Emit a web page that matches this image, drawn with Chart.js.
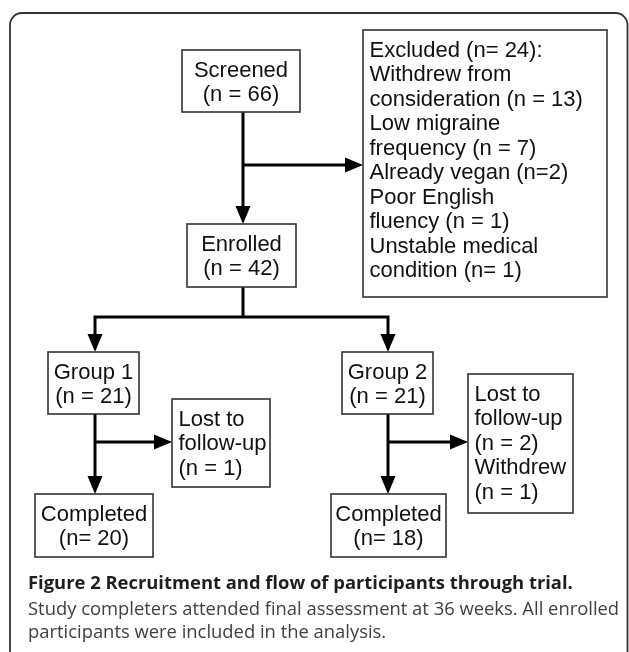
<!DOCTYPE html>
<html>
<head>
<meta charset="utf-8">
<script src="https://cdn.jsdelivr.net/npm/chart.js@4.4.1/dist/chart.umd.min.js"></script>
<style>
    body { margin: 0; background: #fff; }
    #wrap { position: relative; width: 629px; height: 652px; overflow: hidden; }
    #flow { position: absolute; left: 0; top: 0; }
    .cap { position: absolute; left: 28px; font-family: "Open Sans", sans-serif; font-size: 18.4px;
           line-height: 24px; white-space: nowrap; color: #404040; }
    .cap b { color: #1e1e1e; font-weight: 700; }
</style>
</head>
<body>
<div id="wrap">
    <canvas id="flow" width="629" height="652"></canvas>
    <div class="cap" style="top:570px"><b>Figure 2 Recruitment and flow of participants through trial.</b></div>
    <div class="cap" style="top:596px">Study completers attended final assessment at 36 weeks. All enrolled</div>
    <div class="cap" style="top:619px">participants were included in the analysis.</div>
</div>
<script>
'use strict';

// Dados do fluxograma
var stageNames = ['Screened', 'Enrolled', 'Group 1', 'Group 2', 'Completed', 'Completed'];
var stageCounts = [66, 42, 21, 21, 20, 18];
var excludedTotal = 24;
var exclusionCounts = [13, 7, 2, 1, 1];
var lostGroup1 = [1];      // lost to follow-up
var lostGroup2 = [2, 1];   // lost to follow-up, withdrew

var excludedLines = [
    'Excluded (n= ' + excludedTotal + '):',
    'Withdrew from',
    'consideration (n = ' + exclusionCounts[0] + ')',
    'Low migraine',
    'frequency (n = ' + exclusionCounts[1] + ')',
    'Already vegan (n=' + exclusionCounts[2] + ')',
    'Poor English',
    'fluency (n = ' + exclusionCounts[3] + ')',
    'Unstable medical',
    'condition (n= ' + exclusionCounts[4] + ')'
];

function stageLines(i, sep) {
    return [stageNames[i], '(n' + sep + stageCounts[i] + ')'];
}

// Layout das caixas (unidades da escala = pixels)
var boxes = [
    { x1: 182, y1: 50,  x2: 300, y2: 112, align: 'center', lines: stageLines(0, ' = ') },
    { x1: 363, y1: 30,  x2: 607, y2: 297, align: 'left',   lines: excludedLines },
    { x1: 187, y1: 224, x2: 296, y2: 287, align: 'center', lines: stageLines(1, ' = ') },
    { x1: 48,  y1: 352, x2: 139, y2: 414, align: 'center', lines: stageLines(2, ' = ') },
    { x1: 342, y1: 352, x2: 433, y2: 414, align: 'center', lines: stageLines(3, ' = ') },
    { x1: 172, y1: 399, x2: 270, y2: 487, align: 'left',
      lines: ['Lost to', 'follow-up', '(n = ' + lostGroup1[0] + ')'] },
    { x1: 468, y1: 374, x2: 573, y2: 513, align: 'left',
      lines: ['Lost to', 'follow-up', '(n = ' + lostGroup2[0] + ')', 'Withdrew', '(n = ' + lostGroup2[1] + ')'] },
    { x1: 35,  y1: 494, x2: 153, y2: 557, align: 'center', lines: stageLines(4, '= ') },
    { x1: 331, y1: 494, x2: 446, y2: 557, align: 'center', lines: stageLines(5, '= ') }
];

// Ligações entre caixas
var edges = [
    { pts: [[243, 112], [243, 224]], arrow: true },
    { pts: [[243, 165], [363, 165]], arrow: true },
    { pts: [[243, 287], [243, 317]], arrow: false },
    { pts: [[243, 317], [95, 317], [95, 352]], arrow: true },
    { pts: [[243, 317], [388, 317], [388, 352]], arrow: true },
    { pts: [[95, 414], [95, 494]], arrow: true },
    { pts: [[95, 442], [172, 442]], arrow: true },
    { pts: [[388, 414], [388, 494]], arrow: true },
    { pts: [[388, 442], [468, 442]], arrow: true }
];

var ARROW_LEN = 18;
var ARROW_HALF = 7.5;

function edgeDataset(edge) {
    var data = edge.pts.map(function(p) { return { x: p[0], y: p[1] }; });
    if (edge.arrow) {
        var a = edge.pts[edge.pts.length - 2], b = edge.pts[edge.pts.length - 1];
        var dx = b[0] - a[0], dy = b[1] - a[1];
        var len = Math.sqrt(dx * dx + dy * dy);
        data[data.length - 1] = { x: b[0] - dx / len * ARROW_LEN * 0.6, y: b[1] - dy / len * ARROW_LEN * 0.6 };
    }
    return {
        data: data,
        showLine: true,
        borderColor: '#000',
        borderWidth: 3,
        borderJoinStyle: 'miter',
        pointRadius: 0,
        fill: false,
        tension: 0
    };
}

var flowPlugin = {
    id: 'flowBoxes',
    beforeDatasetsDraw: function(chart) {
        var ctx = chart.ctx, x = chart.scales.x, y = chart.scales.y;
        // moldura arredondada
        ctx.save();
        ctx.strokeStyle = '#333';
        ctx.lineWidth = 1.8;
        ctx.beginPath();
        ctx.roundRect(x.getPixelForValue(10), y.getPixelForValue(13),
            x.getPixelForValue(627.5) - x.getPixelForValue(10), y.getPixelForValue(700) - y.getPixelForValue(13), 12);
        ctx.stroke();
        ctx.restore();
    },
    afterDatasetsDraw: function(chart) {
        var ctx = chart.ctx, x = chart.scales.x, y = chart.scales.y;
        ctx.save();

        // pontas das setas
        ctx.fillStyle = '#000';
        edges.forEach(function(edge) {
            if (!edge.arrow) return;
            var a = edge.pts[edge.pts.length - 2], b = edge.pts[edge.pts.length - 1];
            var tx = x.getPixelForValue(b[0]), ty = y.getPixelForValue(b[1]);
            var dx = x.getPixelForValue(b[0]) - x.getPixelForValue(a[0]);
            var dy = y.getPixelForValue(b[1]) - y.getPixelForValue(a[1]);
            var len = Math.sqrt(dx * dx + dy * dy);
            var ux = dx / len, uy = dy / len;
            var bx = tx - ux * ARROW_LEN, by = ty - uy * ARROW_LEN;
            ctx.beginPath();
            ctx.moveTo(tx, ty);
            ctx.lineTo(bx - uy * ARROW_HALF, by + ux * ARROW_HALF);
            ctx.lineTo(bx + uy * ARROW_HALF, by - ux * ARROW_HALF);
            ctx.closePath();
            ctx.fill();
        });

        // caixas e textos
        ctx.font = '22px "Liberation Sans", Arial, sans-serif';
        ctx.textBaseline = 'alphabetic';
        boxes.forEach(function(box) {
            var px1 = x.getPixelForValue(box.x1), px2 = x.getPixelForValue(box.x2);
            var py1 = y.getPixelForValue(box.y1), py2 = y.getPixelForValue(box.y2);
            ctx.fillStyle = '#fff';
            ctx.fillRect(px1, py1, px2 - px1, py2 - py1);
            ctx.strokeStyle = '#333';
            ctx.lineWidth = 1.6;
            ctx.strokeRect(px1, py1, px2 - px1, py2 - py1);

            ctx.fillStyle = '#111';
            box.lines.forEach(function(line, i) {
                var by = py1 + 26.5 + i * 24.5;
                if (box.align === 'center') {
                    ctx.textAlign = 'center';
                    ctx.fillText(line, (px1 + px2) / 2, by);
                } else {
                    ctx.textAlign = 'left';
                    ctx.fillText(line, px1 + 6.5, by);
                }
            });
        });
        ctx.restore();
    }
};

new Chart(document.getElementById('flow'), {
    type: 'scatter',
    data: { datasets: edges.map(edgeDataset) },
    options: {
        responsive: false,
        animation: false,
        devicePixelRatio: 1,
        layout: { padding: 0 },
        scales: {
            x: { type: 'linear', min: 0, max: 629, display: false },
            y: { type: 'linear', min: 0, max: 652, reverse: true, display: false }
        },
        plugins: { legend: { display: false }, tooltip: { enabled: false } }
    },
    plugins: [flowPlugin]
});
</script>
</body>
</html>
